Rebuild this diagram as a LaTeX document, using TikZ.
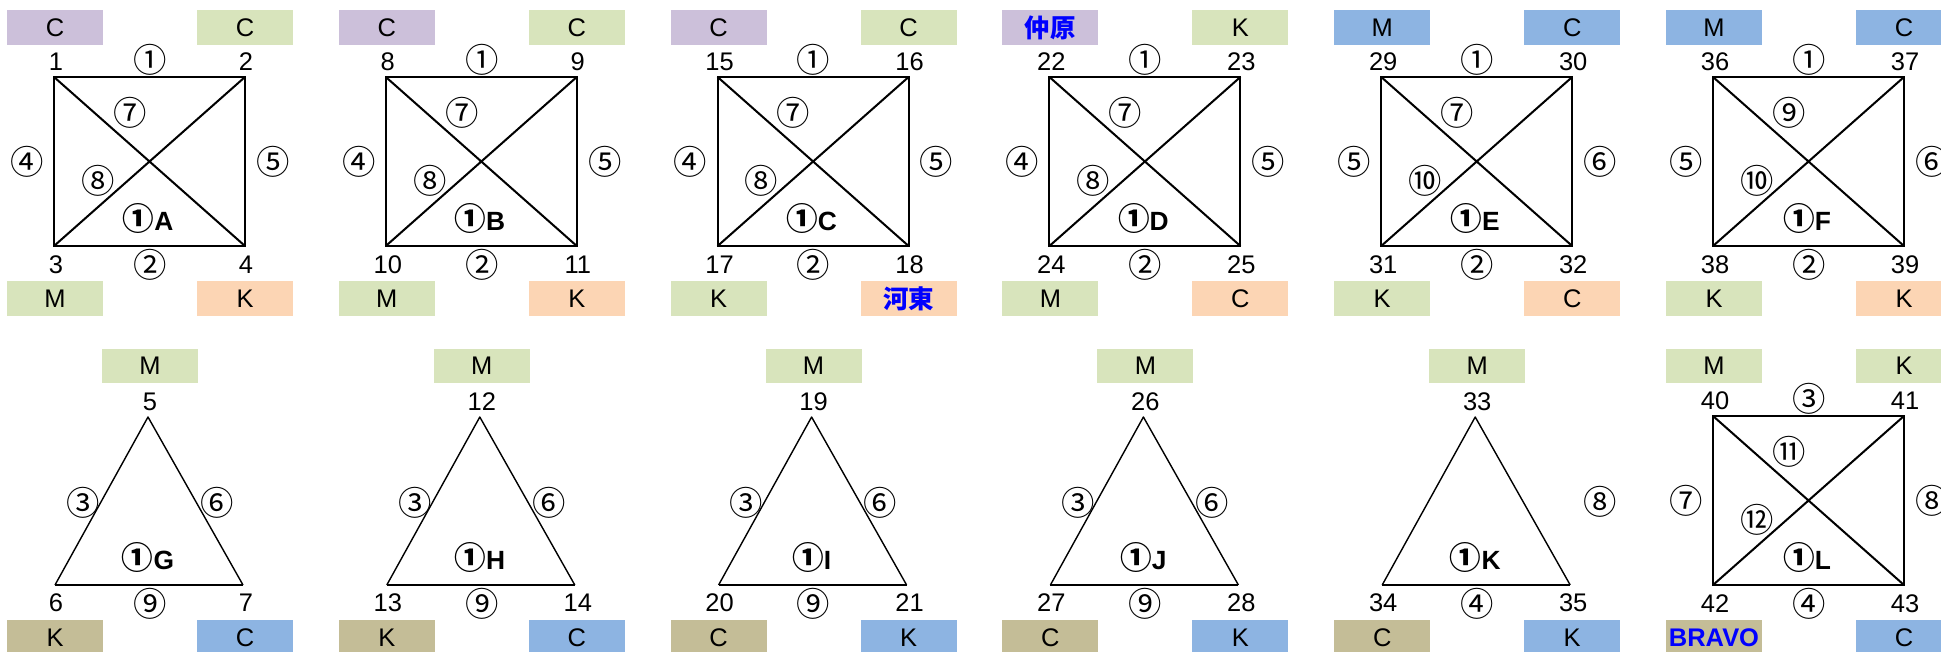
\documentclass[tikz,border=0pt]{standalone}
\usepackage{fontspec}
\setmainfont{Liberation Sans}
\newfontfamily\cjk{Noto Sans CJK JP}

\definecolor{tagpurple}{HTML}{CCC0DA}
\definecolor{taggreen}{HTML}{D8E4BC}
\definecolor{tagpeach}{HTML}{FCD5B4}
\definecolor{tagblue}{HTML}{8DB4E2}
\definecolor{tagtan}{HTML}{C4BD97}
\definecolor{placeblue}{HTML}{0000FF}

\newcommand{\place}[1]{{\bfseries\color{placeblue}#1}}

\begin{document}
\begin{tikzpicture}[x=0.02cm,y=-0.02cm,font=\fontsize{14.5}{16}\selectfont,
  side/.style={line width=1.15pt,line join=miter},
  thinside/.style={line width=0.8pt,line join=round},
  tag/.style={fill=#1,minimum width=1.92cm,minimum height=0.7cm,inner sep=0pt},
  vnum/.style={inner sep=0pt},
  cnum/.style={inner sep=0pt,font=\cjk\fontsize{19}{19}\selectfont},
  pname/.style={inner sep=0pt,font=\bfseries\fontsize{15}{16}\selectfont}]
  \clip (0,0) rectangle (1941,652);
  % colour tags above and below the corners
  \foreach \i/\dx/\y/\c/\t [count=\k] in {
      0/55/27.5/tagpurple/C, 0/245/27.5/taggreen/C, 0/55/298.5/taggreen/M, 0/245/298.5/tagpeach/K,
      1/55/27.5/tagpurple/C, 1/245/27.5/taggreen/C, 1/55/298.5/taggreen/M, 1/245/298.5/tagpeach/K,
      2/55/27.5/tagpurple/C, 2/245/27.5/taggreen/C, 2/55/298.5/taggreen/K, 2/245/298.5/tagpeach/{\place{\cjk 河東}},
      3/55/27.5/tagpurple/{\place{\cjk 仲原}}, 3/245/27.5/taggreen/K, 3/55/298.5/taggreen/M, 3/245/298.5/tagpeach/C,
      4/55/27.5/tagblue/M, 4/245/27.5/tagblue/C, 4/55/298.5/taggreen/K, 4/245/298.5/tagpeach/C,
      5/55/27.5/tagblue/M, 5/245/27.5/tagblue/C, 5/55/298.5/taggreen/K, 5/245/298.5/tagpeach/K,
      0/150/366/taggreen/M, 0/55/637.5/tagtan/K, 0/245/637.5/tagblue/C,
      1/150/366/taggreen/M, 1/55/637.5/tagtan/K, 1/245/637.5/tagblue/C,
      2/150/366/taggreen/M, 2/55/637.5/tagtan/C, 2/245/637.5/tagblue/K,
      3/150/366/taggreen/M, 3/55/637.5/tagtan/C, 3/245/637.5/tagblue/K,
      4/150/366/taggreen/M, 4/55/637.5/tagtan/C, 4/245/637.5/tagblue/K,
      5/55/366/taggreen/M, 5/245/366/taggreen/K, 5/55/637.5/tagtan/{\place{BRAVO}}, 5/245/637.5/tagblue/C}
    \node[tag=\c] (tag\k) at (\i*331.8+\dx,\y) {\t};
  % square panels
  \foreach \i/\dy/\v/\et/\eb/\ew/\ee/\da/\db/\nm in {
      0/0/1/①/②/④/⑤/⑦/⑧/A, 1/0/8/①/②/④/⑤/⑦/⑧/B, 2/0/15/①/②/④/⑤/⑦/⑧/C,
      3/0/22/①/②/④/⑤/⑦/⑧/D, 4/0/29/①/②/⑤/⑥/⑦/⑩/E, 5/0/36/①/②/⑤/⑥/⑨/⑩/F,
      5/339/40/③/④/⑦/⑧/⑪/⑫/L} {
    \pgfmathsetmacro\ox{\i*331.8}
    \pgfmathtruncatemacro\vb{\v+1}
    \pgfmathtruncatemacro\vc{\v+2}
    \pgfmathtruncatemacro\vd{\v+3}
    \coordinate (\nm1) at (\ox+54,77+\dy);
    \coordinate (\nm2) at (\ox+245,77+\dy);
    \coordinate (\nm3) at (\ox+54,246+\dy);
    \coordinate (\nm4) at (\ox+245,246+\dy);
    \draw[side] (\nm1) -- (\nm2) -- (\nm4) -- (\nm3) -- cycle;
    \draw[side] (\nm1) -- (\nm4) (\nm2) -- (\nm3);
    \node[vnum] (v\v) at (\ox+56,62+\dy) {\v};
    \node[vnum] (v\vb) at (\ox+246,62+\dy) {\vb};
    \node[vnum] (v\vc) at (\ox+56,265+\dy) {\vc};
    \node[vnum] (v\vd) at (\ox+246,265+\dy) {\vd};
    \node[cnum] (et\nm) at (\ox+150,60+\dy) {\et};
    \node[cnum] (eb\nm) at (\ox+150,265+\dy) {\eb};
    \node[cnum] (ew\nm) at (\ox+27,162+\dy) {\ew};
    \node[cnum] (ee\nm) at (\ox+273,162+\dy) {\ee};
    \node[cnum] (da\nm) at (\ox+130,113+\dy) {\da};
    \node[cnum] (db\nm) at (\ox+98,181+\dy) {\db};
    \node[pname] (p\nm) at (\ox+148,218+\dy) {{\cjk\fontsize{18}{18}\selectfont ①}\nm};
  }
  % triangle panels
  \foreach \i/\v/\eb/\nm in {0/5/⑨/G, 1/12/⑨/H, 2/19/⑨/I, 3/26/⑨/J, 4/33/④/K} {
    \pgfmathsetmacro\ox{\i*331.8}
    \pgfmathtruncatemacro\vb{\v+1}
    \pgfmathtruncatemacro\vc{\v+2}
    \coordinate (\nm1) at (\ox+148,417);
    \coordinate (\nm2) at (\ox+55,585);
    \coordinate (\nm3) at (\ox+243,585);
    \draw[thinside] (\nm2) -- (\nm1) -- (\nm3);
    \draw[side,line width=1.4pt] (\nm2) -- (\nm3);
    \node[vnum] (v\v) at (\ox+150,402) {\v};
    \node[vnum] (v\vb) at (\ox+56,603) {\vb};
    \node[vnum] (v\vc) at (\ox+246,603) {\vc};
    \node[cnum] (eb\nm) at (\ox+150,604) {\eb};
    \node[pname] (p\nm) at (\ox+148,557) {{\cjk\fontsize{18}{18}\selectfont ①}\nm};
  }
  \foreach \i/\nm in {0/G,1/H,2/I,3/J} {
    \node[cnum] (ew\nm) at (\i*331.8+83,503) {③};
    \node[cnum] (ee\nm) at (\i*331.8+217,503) {⑥};
  }
  \node[cnum] (eeK) at (4*331.8+273,502) {⑧};
\end{tikzpicture}
\end{document}
